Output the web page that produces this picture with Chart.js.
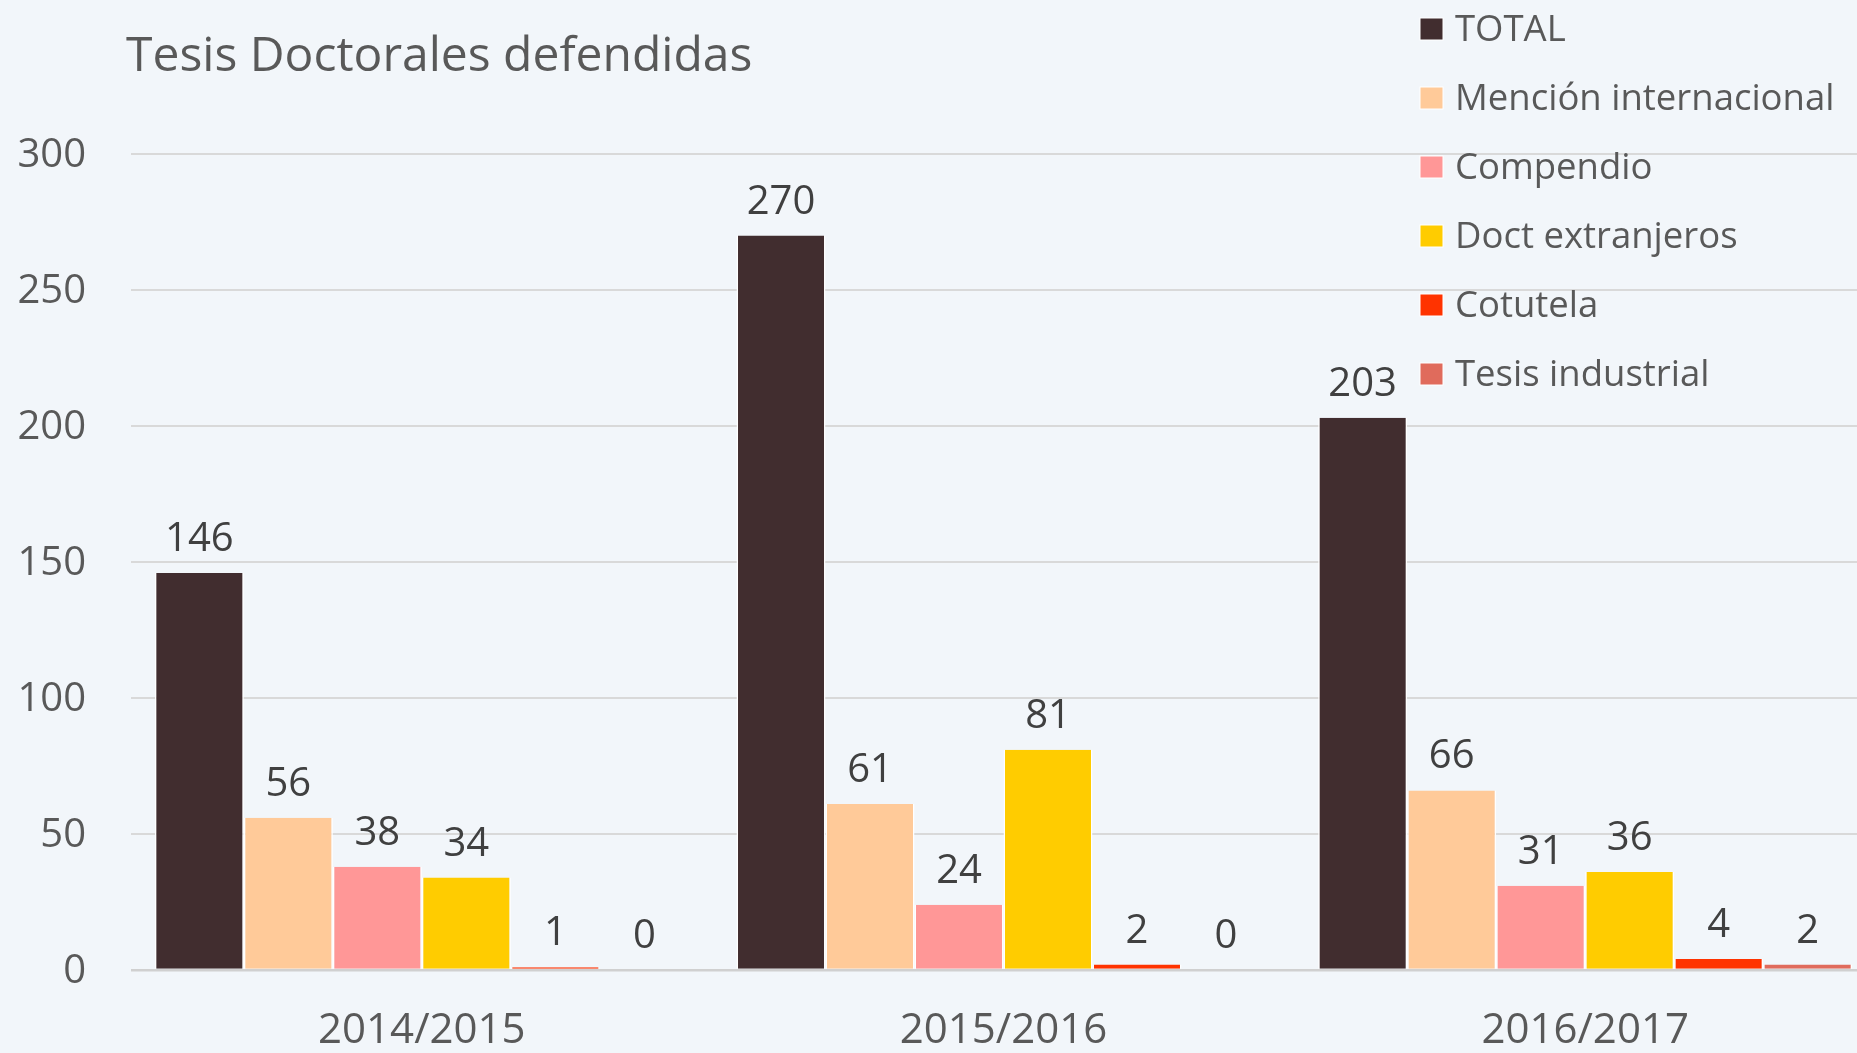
<!DOCTYPE html>
<html>
<head>
<meta charset="utf-8">
<script src="https://cdn.jsdelivr.net/npm/chart.js@4.4.1/dist/chart.umd.min.js"></script>
<style>
  html, body { margin: 0; padding: 0; background: #F2F6FA; overflow: hidden; }
  .chart-box { width: 1876px; height: 1053px; }
</style>
</head>
<body>
<div class="chart-box"><canvas id="tesis-chart"></canvas></div>
<script>
// Data
const years = ['2014/2015', '2015/2016', '2016/2017'];
const total = [146, 270, 203];
const mencion = [56, 61, 66];
const compendio = [38, 24, 31];
const doctExtranjeros = [34, 81, 36];
const cotutela = [1, 2, 4];
const tesisIndustrial = [0, 0, 2];
const seriesNames = ['TOTAL', 'Mención internacional', 'Compendio', 'Doct extranjeros', 'Cotutela', 'Tesis industrial'];
const seriesColors = ['#412D2F', '#FFCA99', '#FF9797', '#FFCC00', '#FF3300', '#E06B5C'];
const titleText = 'Tesis Doctorales defendidas';

const FONT = "'Open Sans', sans-serif";

function makeDataset(i, values) {
  return {
    label: seriesNames[i],
    data: values,
    backgroundColor: seriesColors[i],
    borderColor: '#FFFFFF',
    borderWidth: { top: 0, left: 1.5, right: 1.5, bottom: 0 },
    borderSkipped: false
  };
}

// Background colour of the whole canvas
const bgPlugin = {
  id: 'bg',
  beforeDraw(chart) {
    const ctx = chart.ctx;
    ctx.save();
    ctx.fillStyle = '#F2F6FA';
    ctx.fillRect(0, 0, chart.width, chart.height);
    ctx.restore();
  }
};

// Value labels above each bar
const valueLabels = {
  id: 'valueLabels',
  afterDatasetsDraw(chart) {
    const ctx = chart.ctx;
    ctx.save();
    ctx.font = '40px ' + FONT;
    ctx.fillStyle = '#404040';
    ctx.textAlign = 'center';
    ctx.textBaseline = 'alphabetic';
    chart.data.datasets.forEach((ds, i) => {
      const meta = chart.getDatasetMeta(i);
      meta.data.forEach((bar, j) => {
        ctx.fillText(String(ds.data[j]), bar.x, bar.y - 22);
      });
    });
    ctx.restore();
  }
};

// Title and legend drawn over the top right, like the original
const titleLegend = {
  id: 'titleLegend',
  afterDraw(chart) {
    const ctx = chart.ctx;
    ctx.save();
    ctx.fillStyle = '#595959';
    ctx.font = '48px ' + FONT;
    ctx.textAlign = 'left';
    ctx.textBaseline = 'alphabetic';
    ctx.fillText(titleText, 126, 71);

    ctx.font = '36.5px ' + FONT;
    chart.data.datasets.forEach((ds, i) => {
      const base = 41 + i * 69;
      ctx.fillStyle = ds.backgroundColor;
      ctx.fillRect(1420, base - 23, 23, 22);
      ctx.strokeStyle = '#FFFFFF';
      ctx.lineWidth = 1;
      ctx.strokeRect(1420, base - 23, 23, 22);
      ctx.fillStyle = '#595959';
      ctx.fillText(ds.label, 1455, base);
    });
    ctx.restore();
  }
};

const ctx = document.getElementById('tesis-chart').getContext('2d');
const chart = new Chart(ctx, {
  type: 'bar',
  data: {
    labels: years,
    datasets: [
      makeDataset(0, total),
      makeDataset(1, mencion),
      makeDataset(2, compendio),
      makeDataset(3, doctExtranjeros),
      makeDataset(4, cotutela),
      makeDataset(5, tesisIndustrial)
    ]
  },
  options: {
    responsive: true,
    maintainAspectRatio: false,
    animation: false,
    devicePixelRatio: 1,
    layout: { padding: { top: 154, left: 0, right: 0, bottom: 0 } },
    categoryPercentage: 0.918,
    barPercentage: 1.0,
    plugins: {
      legend: { display: false },
      title: { display: false },
      tooltip: { enabled: false }
    },
    scales: {
      x: {
        grid: { display: false, drawTicks: false },
        border: { display: false },
        ticks: {
          color: '#595959',
          font: { family: FONT, size: 42 },
          padding: 36
        },
        afterFit(scale) { scale.height = 83; }
      },
      y: {
        min: 0,
        max: 300,
        grid: {
          drawTicks: false,
          color: ctx => ctx.tick && ctx.tick.value === 0 ? '#D0D0D0' : '#D9D9D9',
          lineWidth: ctx => ctx.tick && ctx.tick.value === 0 ? 2.5 : 2
        },
        border: { display: false },
        ticks: {
          stepSize: 50,
          color: '#595959',
          font: { family: FONT, size: 40 },
          padding: 45,
          labelOffset: 2
        },
        afterFit(scale) { scale.width = 131; }
      }
    }
  },
  plugins: [bgPlugin, valueLabels, titleLegend]
});
</script>
</body>
</html>
